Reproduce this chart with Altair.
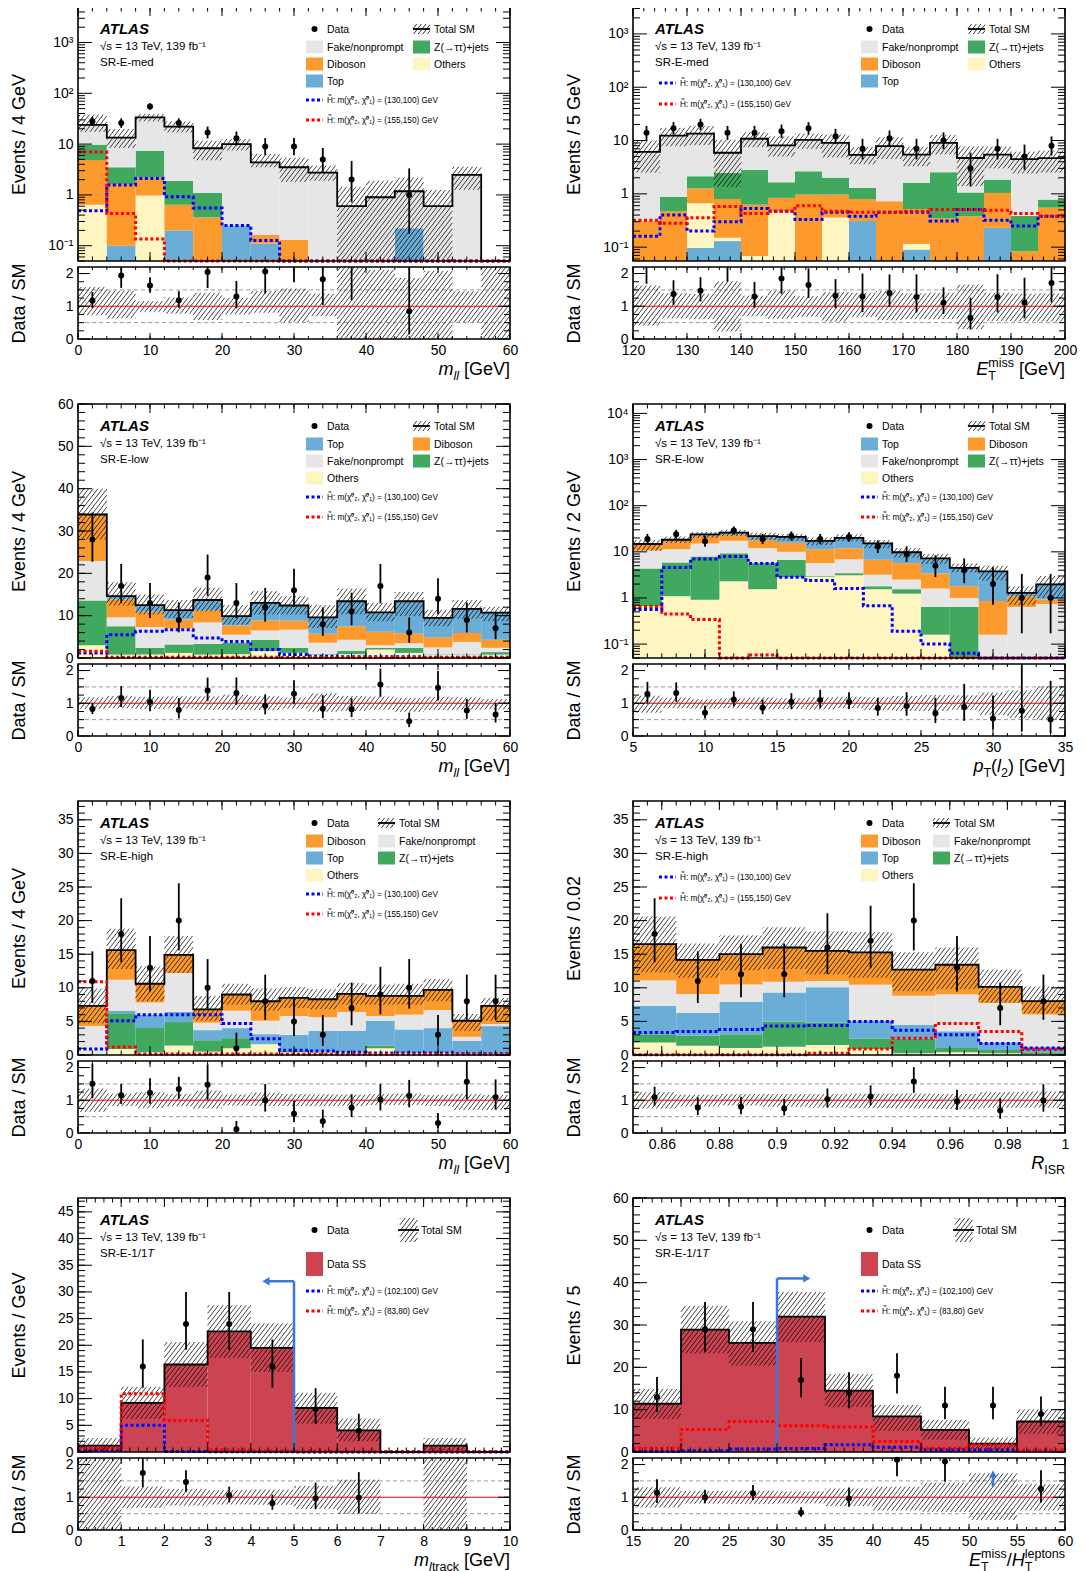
import altair as alt
import numpy as np
import pandas as pd

alt.data_transformers.disable_max_rows()

W, H, RH = 432, 254, 72
RMAX = 2.2
FONT = "Liberation Sans"

COLORS = {
    "Fake/nonprompt": "#e6e6e6",
    "Z(→ττ)+jets": "#41a85f",
    "Diboson": "#fd9a2e",
    "Others": "#fff5c0",
    "Top": "#6aadd6",
    "Data SS": "#cc4452",
}
C_BLUE, C_RED, C_ARROW = "#0000ff", "#ff0000", "#3b78d8"

SIG_A = ["H\u0303: m(\u03c7\u0303\u2070\u2082, \u03c7\u0303\u2070\u2081) = (130,100) GeV",
         "H\u0303: m(\u03c7\u0303\u2070\u2082, \u03c7\u0303\u2070\u2081) = (155,150) GeV"]
SIG_B = ["H\u0303: m(\u03c7\u0303\u2070\u2082, \u03c7\u0303\u2070\u2081) = (102,100) GeV",
         "H\u0303: m(\u03c7\u0303\u2070\u2082, \u03c7\u0303\u2070\u2081) = (83,80) GeV"]

# ---------------- Panel 1 : SR-E-med, m_ll ----------------
p1_edges = [0, 4, 8, 12, 16, 20, 24, 28, 32, 36, 40, 44, 48, 52, 56, 60]
p1_top = [0, 0.10, 0, 0.20, 0, 0.25, 0.11, 0, 0, 0, 0, 0.22, 0, 0, 0]
p1_oth = [0.64, 0, 0.97, 0, 0, 0, 0, 0, 0, 0, 0, 0, 0, 0, 0]
p1_dib = [4.2, 1.54, 1.23, 0.44, 0.36, 0, 0.055, 0.13, 0, 0, 0, 0, 0, 0, 0]
p1_z = [4.9, 1.86, 5.2, 1.26, 0.73, 0, 0, 0, 0, 0, 0, 0, 0, 0, 0]
p1_fake = [14.2, 9.9, 26.3, 20.1, 7.2, 9.75, 4.2, 3.37, 2.74, 0.6, 0.9, 0.96, 0.6, 2.47, 0]
p1_data = [28, 26, 55, 26, 17, 13, 9, 9, 5, 2, 0, 1, 0, 0, 0]
p1_blo = [17.4, 8.4, 28, 17, 4.8, 7.5, 3.5, 1.8, 1.9, 0, 0, 0, 0, 1.25, 0]
p1_bhi = [38, 19.8, 39, 28, 11.7, 12.6, 6.4, 5.4, 3.8, 1.45, 1.9, 2.2, 1.25, 3.6, 0.01]
p1_blue = [0.49, 1.57, 2.1, 0.92, 0.55, 0.25, 0.126, 0, 0, 0, 0, 0, 0, 0, 0]
p1_red = [7.0, 0.43, 0.135, 0, 0, 0, 0, 0, 0, 0, 0, 0, 0, 0, 0]

# ---------------- Panel 2 : SR-E-med, ETmiss ----------------
p2_edges = [120, 125, 130, 135, 140, 145, 150, 155, 160, 165, 170, 175, 180, 185, 190, 195, 200]
p2_top = [0, 0, 0.097, 0.13, 0, 0, 0, 0, 0.31, 0, 0.09, 0, 0, 0.23, 0, 0]
p2_oth = [0, 0, 0.57, 0.02, 0.068, 0.47, 0, 0.36, 0, 0, 0.025, 0, 0, 0, 0, 0]
p2_dib = [0.31, 0.47, 0.60, 0.65, 0.56, 0.37, 0.97, 0.61, 0.49, 0.73, 0.40, 0.35, 0.38, 0.81, 0.084, 0.55]
p2_z = [0, 0.41, 0.87, 1.67, 2.17, 0.81, 1.68, 1.03, 0.49, 0, 1.10, 2.20, 0.68, 0.81, 0.30, 0.23]
p2_fake = [5.8, 11.5, 11.4, 3.43, 8.0, 6.45, 7.65, 7.06, 4.1, 7.1, 3.84, 6.5, 3.64, 3.6, 4.1, 3.9]
p2_data = [14, 17, 20, 14, 14, 15, 17, 12, 7, 11, 7, 10, 3, 7, 5, 8]
p2_blo = [2.5, 7.8, 8.2, 1.35, 7.5, 5.0, 7.0, 4.8, 3.6, 4.5, 3.3, 5.5, 1.4, 3.0, 2.4, 2.5]
p2_bhi = [10.0, 17.3, 18.6, 10.4, 14.3, 12.0, 13.5, 13.0, 7.6, 11.5, 7.6, 12.8, 7.8, 7.7, 6.2, 6.5]
p2_blue = [0.16, 0.40, 0.20, 0.30, 0.53, 0.47, 0.33, 0.45, 0.38, 0.45, 0.45, 0.31, 0.51, 0.32, 0.25, 0.38]
p2_red = [0.32, 0.28, 0.355, 0.58, 0.43, 0.47, 0.60, 0.47, 0.45, 0.45, 0.47, 0.51, 0.51, 0.49, 0.43, 0.38]

# ---------------- Panel 3 : SR-E-low, m_ll ----------------
p3_edges = [0, 4, 8, 12, 16, 20, 24, 28, 32, 36, 40, 44, 48, 52, 56, 60]
p3_oth = [3.0, 0.8, 0.8, 1.2, 0.8, 0.9, 1.6, 1.2, 0.8, 0.9, 2.0, 1.2, 0.8, 0.8, 0.8]
p3_z = [10.6, 6.7, 1.6, 2.0, 2.5, 2.7, 2.7, 1.2, 0.2, 0.8, 0.4, 1.2, 0.1, 0.1, 0.6]
p3_fake = [9.3, 2.1, 4.9, 3.8, 5.1, 1.9, 2.2, 4.3, 2.6, 2.6, 0.6, 1.1, 1.6, 2.9, 1.0]
p3_dib = [11.0, 4.2, 3.6, 2.1, 2.9, 2.2, 2.4, 2.1, 2.1, 3.2, 3.2, 2.3, 2.4, 2.1, 1.9]
p3_top = [0.0, 0.8, 1.6, 2.2, 2.4, 2.2, 4.1, 3.6, 3.9, 5.9, 4.6, 7.6, 4.6, 5.7, 6.4]
p3_data = [28, 17, 13, 9, 19, 13, 12, 16, 8, 11, 17, 6, 14, 9, 7]
p3_blo = [28, 12.4, 10.3, 9.5, 11, 7.9, 10.3, 10.3, 7.1, 10.3, 8.7, 9.9, 7.5, 9.3, 8.7]
p3_bhi = [40, 17.9, 15, 13.7, 16.6, 12.5, 15.8, 14.6, 12.5, 16.4, 13, 15.6, 11.4, 13.7, 12.1]
p3_blue = [1.2, 5.5, 6.3, 6.7, 4.7, 3.9, 2.0, 0.8, 0.4, 0.3, 0.3, 0.3, 0.2, 0.2, 0.2]
p3_red = [1.6, 0.2, 0.2, 0.2, 0.15, 0.15, 0.15, 0.1, 0.1, 0.1, 0.1, 0.1, 0.1, 0.1, 0.1]

# ---------------- Panel 4 : SR-E-low, pT(l2) ----------------
p4_edges = [5, 7, 9, 11, 13, 15, 17, 19, 21, 23, 25, 27, 29, 31, 33, 35]
p4_oth = [0.67, 1.09, 0.92, 2.3, 1.55, 2.8, 2.9, 3.1, 1.55, 1.24, 0.16, 0, 0, 0, 0]
p4_z = [3.7, 4.8, 7.0, 7.0, 4.15, 3.9, 0.1, 0.35, 0.25, 0.31, 0.48, 0.64, 0, 0, 0]
p4_fake = [6.3, 5.5, 7.3, 8.0, 6.3, 3.3, 2.7, 3.45, 1.4, 0.95, 0.96, 0.36, 0.16, 0.64, 0.74]
p4_dib = [4.0, 5.9, 6.8, 6.1, 6.0, 5.7, 5.7, 5.1, 3.5, 3.2, 1.8, 0.8, 0.7, 0.45, 0.18]
p4_top = [0.1, 1.0, 2.0, 2.6, 4.0, 5.5, 5.9, 8.0, 8.5, 4.1, 3.8, 2.7, 2.9, 0.2, 1.05]
p4_data = [19, 24, 17, 29, 19, 22, 19, 21, 13, 9, 5, 4, 2, 1, 1]
p4_blo = [10.5, 15.5, 20, 22, 18, 17.5, 14, 17, 12, 7.5, 5.5, 3.6, 2.4, 0.7, 1.0]
p4_bhi = [18.2, 21.5, 27, 30, 26, 24.5, 20.5, 24, 18, 12, 9, 5.6, 5.0, 1.8, 3.0]
p4_blue = [0.56, 4.6, 7.0, 7.9, 5.6, 2.8, 2.4, 1.6, 0.68, 0.19, 0.1, 0.063, 0, 0, 0]
p4_red = [0.65, 0.45, 0.34, 0, 0.058, 0, 0, 0, 0, 0, 0, 0, 0, 0, 0]

# ---------------- Panel 5 : SR-E-high, m_ll ----------------
p5_edges = [0, 4, 8, 12, 16, 20, 24, 28, 32, 36, 40, 44, 48, 52, 56, 60]
p5_oth = [0, 0.9, 0.4, 1.4, 0.5, 1.0, 1.6, 0.4, 0.4, 0.4, 1.0, 0.3, 0.3, 0.2, 0.2]
p5_z = [0, 5.3, 3.6, 3.5, 1.7, 1.5, 0, 0.2, 0.1, 0.1, 0.4, 0, 0.1, 0, 0]
p5_top = [0, 0.4, 2.0, 1.5, 1.5, 1.5, 1.5, 2.4, 3.1, 3.1, 3.7, 3.5, 3.6, 1.9, 4.1]
p5_fake = [4.3, 4.6, 1.8, 5.8, 1.1, 2.6, 2.0, 2.8, 2.0, 2.8, 0.7, 2.2, 2.7, 0.6, 0.3]
p5_dib = [3.0, 4.4, 2.8, 2.7, 2.0, 2.4, 2.9, 2.7, 2.7, 2.7, 3.0, 2.8, 3.0, 2.4, 2.7]
p5_data = [11, 18, 13, 20, 10, 1, 8, 5, 3, 7, 9, 10, 3, 8, 8]
p5_blo = [4.7, 12.8, 8.0, 12.2, 5.1, 7.5, 6.6, 7.0, 6.8, 7.5, 7.5, 7.5, 8.0, 3.6, 5.1]
p5_bhi = [9.9, 18.8, 13.2, 17.7, 8.8, 10.6, 9.9, 10.1, 9.8, 10.7, 10.5, 10.6, 11.3, 6.1, 8.5]
p5_blue = [0.9, 5.1, 6.0, 6.0, 6.0, 4.7, 2.4, 0.7, 0.6, 0.4, 0.3, 0.3, 0.3, 0.2, 0.2]
p5_red = [10.9, 1.2, 0.15, 0.15, 0.15, 0.15, 0.15, 0.1, 0.1, 0.1, 0.1, 0.1, 0.1, 0.1, 0.1]

# ---------------- Panel 6 : SR-E-high, R_ISR ----------------
p6_edges = [0.85, 0.865, 0.88, 0.895, 0.91, 0.925, 0.94, 0.955, 0.97, 0.985, 1.0]
p6_oth = [1.87, 1.38, 1.03, 1.23, 1.48, 0.9, 0.25, 0.4, 0.25, 0.15]
p6_z = [1.23, 1.48, 2.07, 3.77, 3.32, 1.56, 2.15, 0.63, 0.5, 0.25]
p6_top = [4.2, 3.4, 4.8, 4.3, 5.3, 2.6, 2.1, 2.5, 1.1, 0.83]
p6_fake = [3.8, 2.8, 2.6, 1.6, 0.9, 5.4, 4.3, 5.5, 5.9, 4.8]
p6_dib = [5.4, 5.1, 4.5, 5.1, 4.5, 4.8, 3.9, 4.4, 2.4, 2.0]
p6_data = [18, 11, 12, 12, 16, 17, 20, 13, 7, 8]
p6_blo = [12.3, 11.5, 12.6, 12.8, 12.0, 11.5, 9.5, 9.8, 7.8, 6.2]
p6_bhi = [20.6, 16.6, 17.8, 19.0, 18.4, 18.3, 15.3, 16.0, 12.7, 10.2]
p6_blue = [3.35, 3.5, 3.8, 4.3, 4.4, 5.0, 3.7, 3.0, 1.7, 1.03]
p6_red = [0.05, 0.05, 0.05, 0.05, 0.25, 0.9, 2.5, 4.7, 3.5, 0.8]

# ---------------- Panel 7 : SR-E-1/1T, m_ltrack ----------------
p7_edges = [0, 1, 2, 3, 4, 5, 6, 7, 8, 9, 10]
p7_ss = [1.2, 9.2, 16.4, 22.6, 19.5, 8.25, 4.06, 0, 1.2, 0]
p7_data = [0, 16, 24, 24, 16, 8, 4, 0, 0, 0]
p7_blo = [0, 6.2, 12.2, 17.6, 15.0, 5.3, 2.0, 0, 0, 0]
p7_bhi = [2.6, 12.2, 20.6, 27.5, 24.1, 11.1, 6.25, 0, 2.6, 0]
p7_blue = [0.4, 5.0, 0.1, 0.05, 0.05, 0.02, 0.02, 0.02, 0.02, 0.02]
p7_red = [0.75, 10.9, 5.9, 0.4, 0.3, 0.2, 0.1, 0.1, 0.1, 0.1]
p7_cut = [5.0, 32.0, -0.65]   # cut value, arrow height, arrow length (sign = direction)

# ---------------- Panel 8 : SR-E-1/1T, ETmiss/HT ----------------
p8_edges = [15, 20, 25, 30, 35, 40, 45, 50, 55, 60]
p8_ss = [11.4, 28.9, 25.8, 32.0, 14.5, 8.4, 5.25, 1.96, 7.2]
p8_data = [13, 29, 29, 17, 14, 18, 11, 11, 9]
p8_blo = [7.8, 23.3, 20.4, 26.0, 10.6, 5.0, 2.9, 0.6, 4.3]
p8_bhi = [14.9, 34.5, 30.9, 37.8, 18.4, 11.1, 7.6, 3.4, 10.1]
p8_blue = [0.1, 0.3, 0.7, 0.8, 1.7, 1.1, 0.55, 0.5, 0.3]
p8_red = [0.9, 5.3, 7.2, 6.2, 5.9, 2.5, 0.9, 1.7, 0.5]
p8_cut = [30.0, 41.0, 3.1]

LOG_LABELS_A = [0.1, 1, 10, 100, 1000]
LOG_LABELS_B = [0.1, 1, 10, 100, 1000, 10000]


def rng(a, b, s):
    return [round(float(v), 6) for v in np.arange(a, b + s / 2, s)]


def log_minors(lo, hi):
    out = []
    for d in range(-3, 6):
        for k in range(2, 10):
            v = k * 10.0 ** d
            if lo <= v <= hi:
                out.append(v)
    return out


def log_majors(lo, hi):
    return [10.0 ** d for d in range(-3, 6) if lo <= 10.0 ** d <= hi]


LOGEXPR = ("datum.value < 0.5 ? '10\u207b\u00b9' : datum.value < 5 ? '1' : datum.value < 50 ? '10' : "
           "datum.value < 500 ? '10\u00b2' : datum.value < 5000 ? '10\u00b3' : '10\u2074'")

AW = {' ': .278, '[': .278, ']': .278, 'G': .778, 'e': .556, 'V': .667, 'l': .222, 'm': .833, 'i': .222,
      's': .5, 'T': .611, 'E': .667, 'H': .722, 'p': .556, 't': .278, 'o': .556, 'n': .556, 'r': .333,
      'a': .556, 'c': .5, 'k': .5, 'R': .722, 'I': .278, 'S': .667, '(': .333, ')': .333, '2': .556,
      '/': .278, '-': .333, '1': .556, 'd': .556, 'M': .833}


def tw(s, size):
    return sum(AW.get(ch, 0.55) for ch in s) * size


def rich(pieces, right, base):
    widths = []
    for it in pieces:
        if isinstance(it, list):
            widths.append(max(tw(t, s) for t, s, d, st in it))
        else:
            widths.append(tw(it[0], it[1]))
    x = right - sum(widths)
    rows = []
    for it, wd in zip(pieces, widths):
        grp = it if isinstance(it, list) else [it]
        for t, s, d, st in grp:
            lead = len(t) - len(t.lstrip())
            rows.append(dict(px=x + tw(t[:lead], s), py=base + d, t=t.lstrip(), fs=s, st=st))
        x += wd
    return rows


K = 1.3
SP = 4.6


def hatch_rows(rects, xdom, ydom, ylog, w, h):
    x0, x1 = xdom
    if ylog:
        l0, l1 = np.log10(ydom[0]), np.log10(ydom[1])

        def yp(v):
            return (np.log10(max(v, ydom[0])) - l0) / (l1 - l0) * h

        def yi(p):
            return 10 ** (l0 + p / h * (l1 - l0))
    else:
        def yp(v):
            return (v - ydom[0]) / (ydom[1] - ydom[0]) * h

        def yi(p):
            return ydom[0] + p / h * (ydom[1] - ydom[0])

    def xp(v):
        return (v - x0) / (x1 - x0) * w

    def xi(p):
        return x0 + p / w * (x1 - x0)

    out = []
    step = K * SP
    for a, b, lo, hi in rects:
        A, B = sorted((xp(a), xp(b)))
        LO, HI = sorted((yp(lo), yp(hi)))
        LO = min(max(LO, 0), h)
        HI = min(max(HI, 0), h)
        if HI - LO < 0.8 or B - A < 0.5:
            continue
        kmin = int(np.ceil((LO - K * B) / step))
        kmax = int(np.floor((HI - K * A) / step))
        for k in range(kmin, kmax + 1):
            c = k * step
            xs = max(A, (LO - c) / K)
            xe = min(B, (HI - c) / K)
            if xe - xs > 0.05:
                out.append(dict(hx=xi(xs), hy=yi(K * xs + c), hx2=xi(xe), hy2=yi(K * xe + c)))
    return pd.DataFrame(out, columns=['hx', 'hy', 'hx2', 'hy2'])


def gehrels(n):
    n = np.asarray(n, float)
    m = np.maximum(n, 1.0)
    hi = n + 1.0 + np.sqrt(n + 0.75)
    lo = np.where(n > 0, m * (1 - 1 / (9 * m) - 1 / (3 * np.sqrt(m))) ** 3, 0.0)
    return lo, hi


def text_layers(rows):
    out = []
    if not rows:
        return out
    df = pd.DataFrame(rows)
    for st, grp in df.groupby('st'):
        kw = dict(align='left', baseline='alphabetic', font=FONT, color='black')
        if st == 'i':
            kw['fontStyle'] = 'italic'
        if st == 'bi':
            kw.update(fontStyle='italic', fontWeight='bold')
        out.append(alt.Chart(grp.reset_index(drop=True)).mark_text(**kw).encode(
            x=alt.X('px:Q', scale=None), y=alt.Y('py:Q', scale=None),
            text='t:N', size=alt.Size('fs:Q', scale=None)))
    return out


def frame(w, h):
    return alt.Chart(pd.DataFrame({'a': [0]})).mark_rect(
        fillOpacity=0, stroke='black', strokeWidth=1.6).encode(
        x=alt.value(0), x2=alt.value(w), y=alt.value(0), y2=alt.value(h))


def spacer(y):
    # white 1px rule outside the plot: only fixes the layout bounds
    return alt.Chart(pd.DataFrame({'a': [0]})).mark_rule(color='white', strokeWidth=1).encode(
        x=alt.value(0), x2=alt.value(1), y=alt.value(y))


ROWS = [22, 40, 57, 74]
C1 = (228, 245, 249)
LEG_FS = 10.5


def legend_layers(leg, sig_labels):
    boxes, lines, marks, texts, hrects, blk = [], [], [], [], [], []
    if leg['kind'] == 'std':
        for col, row, kind, label in leg['items']:
            sx0, sx1, tx = C1 if col == 0 else leg['col2']
            yc = ROWS[row]
            if kind == 'data':
                marks.append(dict(px=(sx0 + sx1) / 2, py=yc))
            elif kind == 'total':
                hrects.append((sx0, sx1, yc - 5, yc + 5))
                blk.append(dict(lx=sx0, lx2=sx1, ly=yc))
            else:
                boxes.append(dict(bx=sx0, bx2=sx1, by=yc - 6.5, by2=yc + 6.5, c=COLORS[kind]))
            texts.append(dict(px=tx, py=yc + 3.8, t=label, fs=LEG_FS, st='n'))
    else:
        marks.append(dict(px=236.5, py=32))
        texts.append(dict(px=249, py=35.8, t='Data', fs=LEG_FS, st='n'))
        hrects.append((322, 339.5, 20, 44))
        blk.append(dict(lx=320, lx2=341, ly=32))
        texts.append(dict(px=343, py=35.8, t='Total SM', fs=LEG_FS, st='n'))
        boxes.append(dict(bx=228, bx2=245, by=54, by2=78, c=COLORS['Data SS']))
        texts.append(dict(px=249, py=69.8, t='Data SS', fs=LEG_FS, st='n'))
    if leg['sig'] == 'under':
        sx0, sx1, tx, ys = 228, 245, 249, [93, 113]
    else:
        sx0, sx1, tx, ys = 26, 43, 47, [76, 97]
    for y, c, lab in zip(ys, [C_BLUE, C_RED], sig_labels):
        lines.append(dict(lx=sx0, lx2=sx1, ly=y, c=c))
        texts.append(dict(px=tx, py=y + 2.8, t=lab, fs=8.2, st='n'))

    layers = []
    if boxes:
        layers.append(alt.Chart(pd.DataFrame(boxes)).mark_rect().encode(
            x=alt.X('bx:Q', scale=None), x2='bx2', y=alt.Y('by:Q', scale=None), y2='by2',
            color=alt.Color('c:N', scale=None)))
    hdf = hatch_rows(hrects, (0, W), (H, 0), False, W, H)
    layers.append(alt.Chart(hdf).mark_rule(color='black', strokeWidth=0.8).encode(
        x=alt.X('hx:Q', scale=None), x2='hx2', y=alt.Y('hy:Q', scale=None), y2='hy2'))
    layers.append(alt.Chart(pd.DataFrame(blk)).mark_rule(color='black', strokeWidth=1.8).encode(
        x=alt.X('lx:Q', scale=None), x2='lx2', y=alt.Y('ly:Q', scale=None)))
    layers.append(alt.Chart(pd.DataFrame(lines)).mark_rule(strokeWidth=3, strokeDash=[3, 2.5]).encode(
        x=alt.X('lx:Q', scale=None), x2='lx2', y=alt.Y('ly:Q', scale=None),
        color=alt.Color('c:N', scale=None)))
    layers.append(alt.Chart(pd.DataFrame(marks)).mark_point(filled=True, color='black', size=36, opacity=1).encode(
        x=alt.X('px:Q', scale=None), y=alt.Y('py:Q', scale=None)))
    layers += text_layers(texts)
    return layers


def panel(p, top_spacer):
    edges = np.array(p['edges'], float)
    n = len(edges) - 1
    xdom = [float(edges[0]), float(edges[-1])]
    ydom = [float(v) for v in p['ydom']]
    log = p['log']
    cen = (edges[:-1] + edges[1:]) / 2
    xsc = alt.Scale(domain=xdom, nice=False, zero=False)
    if log:
        ysc = alt.Scale(type='log', domain=ydom, nice=False, clamp=True)
    else:
        ysc = alt.Scale(domain=ydom, nice=False, zero=False, clamp=True)
    yax = alt.Axis(values=p['ylabels'], labelExpr=LOGEXPR if log else 'datum.label',
                   ticks=False, domain=False, grid=False, labelFontSize=14, labelPadding=5,
                   labelFlush=False, labelOverlap=False, title=p['ytitle'], titleFontSize=18,
                   titleFontWeight='normal', titlePadding=10, minExtent=40, maxExtent=40)

    def X(f):
        return alt.X(f, type='quantitative', scale=xsc, axis=None)

    def Y(f):
        return alt.Y(f, type='quantitative', scale=ysc, axis=yax)

    def fl(v):
        return max(v, ydom[0]) if log else v

    rows = []
    cum = np.zeros(n)
    for name, vals in p['stack']:
        v = np.array(vals, float)
        for i in range(n):
            if v[i] <= 0:
                continue
            a, b = cum[i], cum[i] + v[i]
            if log and b <= ydom[0]:
                continue
            rows.append(dict(x=edges[i], x2=edges[i + 1], y=fl(a), y2=b, c=COLORS[name]))
        cum = cum + v
    total = cum
    layers = [alt.Chart(pd.DataFrame(rows)).mark_rect().encode(
        x=X('x'), x2='x2', y=Y('y'), y2='y2', color=alt.Color('c:N', scale=None))]

    blo, bhi = np.array(p['blo'], float), np.array(p['bhi'], float)
    hdf = hatch_rows([(edges[i], edges[i + 1], blo[i], bhi[i]) for i in range(n)], xdom, ydom, log, W, H)
    layers.append(alt.Chart(hdf).mark_rule(color='black', strokeWidth=0.75).encode(
        x=X('hx'), x2='hx2', y=Y('hy'), y2='hy2'))

    tdf = pd.DataFrame(dict(x=edges, y=[fl(v) for v in list(total) + [total[-1]]]))
    layers.append(alt.Chart(tdf).mark_line(interpolate='step-after', color='black', strokeWidth=1.8).encode(
        x=X('x'), y=Y('y')))

    srows = []
    for vals, c in [(p['blue'], C_BLUE), (p['red'], C_RED)]:
        vv = list(vals) + [vals[-1]]
        for xe, v in zip(edges, vv):
            srows.append(dict(x=xe, y=fl(v), c=c))
    layers.append(alt.Chart(pd.DataFrame(srows)).mark_line(
        interpolate='step-after', strokeWidth=3, strokeDash=[3, 2.5]).encode(
        x=X('x'), y=Y('y'), color=alt.Color('c:N', scale=None)))

    data = np.array(p['data'], float)
    elo, ehi = gehrels(data)
    m = data > 0
    ddf = pd.DataFrame(dict(x=cen[m], y=data[m], lo=np.array([fl(v) for v in elo[m]]), hi=ehi[m]))
    layers.append(alt.Chart(ddf).mark_rule(color='black', strokeWidth=1.8).encode(
        x=X('x'), y=Y('lo'), y2='hi'))
    layers.append(alt.Chart(ddf).mark_point(filled=True, color='black', size=36, opacity=1).encode(
        x=X('x'), y=Y('y')))

    if p.get('cut'):
        cv, ch, cl = p['cut']
        adf = pd.DataFrame(dict(x=[cv], x2=[cv + cl], y0=[0.0], y=[ch]))
        layers.append(alt.Chart(adf).mark_rule(color=C_ARROW, strokeWidth=2.5).encode(
            x=X('x'), y=Y('y0'), y2='y'))
        layers.append(alt.Chart(adf).mark_rule(color=C_ARROW, strokeWidth=2.5).encode(
            x=X('x'), x2='x2', y=Y('y')))
        layers.append(alt.Chart(adf).mark_point(
            shape='triangle-left' if cl < 0 else 'triangle-right', filled=True, color=C_ARROW,
            size=70, opacity=1).encode(x=X('x2'), y=Y('y')))

    xmaj, xmin = p['xticks']
    trows = []
    for vals, L in [(xmaj, 9), (xmin, 4.5)]:
        for v in vals:
            trows.append(dict(tx=v, ta=H, tb=H - L))
            trows.append(dict(tx=v, ta=0, tb=L))
    layers.append(alt.Chart(pd.DataFrame(trows)).mark_rule(color='black', strokeWidth=1).encode(
        x=X('tx'), y=alt.Y('ta:Q', scale=None), y2='tb'))
    if log:
        ymaj, ymin = log_majors(*ydom), log_minors(*ydom)
    else:
        ymaj, ymin = p['yticks']
    yrows = []
    for vals, L in [(ymaj, 14), (ymin, 7)]:
        for v in vals:
            yrows.append(dict(ty=v, ta=0, tb=L))
            yrows.append(dict(ty=v, ta=W - L, tb=W))
    layers.append(alt.Chart(pd.DataFrame(yrows)).mark_rule(color='black', strokeWidth=1).encode(
        y=Y('ty'), x=alt.X('ta:Q', scale=None), x2='tb'))

    layers += legend_layers(p['legend'], p['siglabels'])
    trows = [dict(px=22, py=27, t='ATLAS', fs=15, st='bi'),
             dict(px=22, py=43, t='\u221as = 13 TeV, 139 fb\u207b\u00b9', fs=11.5, st='n')]
    if p['region'].endswith('/1T'):
        base = p['region'][:-1]
        trows.append(dict(px=22, py=59, t=base, fs=11.5, st='n'))
        trows.append(dict(px=22 + tw(base, 11.5), py=59, t='T', fs=11.5, st='i'))
    else:
        trows.append(dict(px=22, py=59, t=p['region'], fs=11.5, st='n'))
    layers += text_layers(trows)
    layers.append(frame(W, H))
    if top_spacer:
        layers.append(spacer(-9))
    main = alt.layer(*layers).properties(width=W, height=H)

    # ---------------- ratio ----------------
    rsc = alt.Scale(domain=[0, RMAX], nice=False, zero=False, clamp=True)
    rax = alt.Axis(values=[0, 1, 2], ticks=False, domain=False, grid=False, labelFontSize=14,
                   labelPadding=5, labelFlush=False, labelOverlap=False, title='Data / SM',
                   titleFontSize=18, titleFontWeight='normal', titlePadding=10,
                   minExtent=40, maxExtent=40)
    xax = alt.Axis(values=p['xlabels'], format='.6~g', ticks=False, domain=False, grid=False,
                   labelFontSize=14, labelPadding=4, labelFlush=False, labelOverlap=False, title=None)

    def RX(f):
        return alt.X(f, type='quantitative', scale=xsc, axis=xax)

    def RY(f):
        return alt.Y(f, type='quantitative', scale=rsc, axis=rax)

    rl = []
    rl.append(alt.Chart(pd.DataFrame({'ry': [0.5, 1.5]})).mark_rule(
        color='#9a9a9a', strokeDash=[4, 3], strokeWidth=1).encode(
        y=RY('ry'), x=alt.value(0), x2=alt.value(W)))
    rrects = []
    for i in range(n):
        if total[i] > 0:
            rrects.append((edges[i], edges[i + 1], min(blo[i] / total[i], RMAX), min(bhi[i] / total[i], RMAX)))
        elif bhi[i] > 0:
            rrects.append((edges[i], edges[i + 1], 0.0, RMAX))
    rh = hatch_rows(rrects, xdom, [0, RMAX], False, W, RH)
    rl.append(alt.Chart(rh).mark_rule(color='black', strokeWidth=0.75).encode(
        x=RX('hx'), x2='hx2', y=RY('hy'), y2='hy2'))
    rl.append(alt.Chart(pd.DataFrame({'ry': [1.0]})).mark_rule(color='#ff0000', strokeWidth=1.2).encode(
        y=RY('ry'), x=alt.value(0), x2=alt.value(W)))
    er, pr, ar = [], [], []
    for i in range(n):
        if data[i] <= 0 or total[i] <= 0:
            continue
        r = data[i] / total[i]
        lo_r, hi_r = elo[i] / total[i], ehi[i] / total[i]
        if lo_r >= RMAX:
            ar.append(dict(x=cen[i], y0=0.6 * RMAX, y1=0.75 * RMAX, yh=0.78 * RMAX))
            continue
        er.append(dict(x=cen[i], lo=lo_r, hi=min(hi_r, RMAX)))
        if r <= RMAX:
            pr.append(dict(x=cen[i], y=r))
    rl.append(alt.Chart(pd.DataFrame(er, columns=['x', 'lo', 'hi'])).mark_rule(color='black', strokeWidth=1.8).encode(
        x=RX('x'), y=RY('lo'), y2='hi'))
    rl.append(alt.Chart(pd.DataFrame(pr, columns=['x', 'y'])).mark_point(
        filled=True, color='black', size=36, opacity=1).encode(x=RX('x'), y=RY('y')))
    if ar:
        adf = pd.DataFrame(ar)
        rl.append(alt.Chart(adf).mark_rule(color=C_ARROW, strokeWidth=2.5).encode(
            x=RX('x'), y=RY('y0'), y2='y1'))
        rl.append(alt.Chart(adf).mark_point(shape='triangle-up', filled=True, color=C_ARROW,
                                            size=60, opacity=1).encode(x=RX('x'), y=RY('yh')))
    trows = []
    for vals, L in [(xmaj, 6), (xmin, 3)]:
        for v in vals:
            trows.append(dict(tx=v, ta=RH, tb=RH - L))
            trows.append(dict(tx=v, ta=0, tb=L))
    rl.append(alt.Chart(pd.DataFrame(trows)).mark_rule(color='black', strokeWidth=1).encode(
        x=RX('tx'), y=alt.Y('ta:Q', scale=None), y2='tb'))
    yrows = []
    for vals, L in [([0, 1, 2], 12), (rng(0.25, 2.0, 0.25), 6)]:
        for v in vals:
            yrows.append(dict(ty=v, ta=0, tb=L))
            yrows.append(dict(ty=v, ta=W - L, tb=W))
    rl.append(alt.Chart(pd.DataFrame(yrows)).mark_rule(color='black', strokeWidth=1).encode(
        y=RY('ty'), x=alt.X('ta:Q', scale=None), x2='tb'))
    rl += text_layers(rich(p['xtitle'], W, RH + 36))
    rl.append(frame(W, RH))
    rl.append(spacer(RH + 46))
    ratio = alt.layer(*rl).properties(width=W, height=RH)
    return alt.vconcat(main, ratio, spacing=6, bounds='flush')


LEG_A = [(0, 0, 'data', 'Data'), (1, 0, 'total', 'Total SM'), (0, 1, 'Fake/nonprompt', 'Fake/nonprompt'),
         (1, 1, 'Z(→ττ)+jets', 'Z(\u2192\u03c4\u03c4)+jets'), (0, 2, 'Diboson', 'Diboson'),
         (1, 2, 'Others', 'Others'), (0, 3, 'Top', 'Top')]
LEG_B = [(0, 0, 'data', 'Data'), (1, 0, 'total', 'Total SM'), (0, 1, 'Top', 'Top'),
         (1, 1, 'Diboson', 'Diboson'), (0, 2, 'Fake/nonprompt', 'Fake/nonprompt'),
         (1, 2, 'Z(→ττ)+jets', 'Z(\u2192\u03c4\u03c4)+jets'), (0, 3, 'Others', 'Others')]
LEG_C = [(0, 0, 'data', 'Data'), (1, 0, 'total', 'Total SM'), (0, 1, 'Diboson', 'Diboson'),
         (1, 1, 'Fake/nonprompt', 'Fake/nonprompt'), (0, 2, 'Top', 'Top'),
         (1, 2, 'Z(→ττ)+jets', 'Z(\u2192\u03c4\u03c4)+jets'), (0, 3, 'Others', 'Others')]

XT_MLL = [("m", 18, 0, 'i'), ("ll", 12.5, 5, 'i'), (" [GeV]", 18, 0, 'n')]
XT_MET = [("E", 18, 0, 'i'), [("T", 12.5, 5, 'n'), ("miss", 12.5, -8, 'n')], (" [GeV]", 18, 0, 'n')]
XT_PT = [("p", 18, 0, 'i'), ("T", 12.5, 5, 'n'), ("(", 18, 0, 'n'), ("l", 18, 0, 'i'),
         ("2", 12.5, 5, 'n'), (") [GeV]", 18, 0, 'n')]
XT_RISR = [("R", 18, 0, 'i'), ("ISR", 12.5, 5, 'n')]
XT_MLT = [("m", 18, 0, 'i'), ("l", 12.5, 5, 'i'), ("track", 12.5, 5, 'n'), (" [GeV]", 18, 0, 'n')]
XT_RAT = [("E", 18, 0, 'i'), [("T", 12.5, 5, 'n'), ("miss", 12.5, -8, 'n')], ("/", 18, 0, 'n'),
          ("H", 18, 0, 'i'), [("T", 12.5, 5, 'n'), ("leptons", 12.5, -8, 'n')]]

P = []
P.append(dict(edges=p1_edges, ydom=(0.05, 5000), log=True, ylabels=LOG_LABELS_A,
              stack=[('Top', p1_top), ('Others', p1_oth), ('Diboson', p1_dib), ('Z(→ττ)+jets', p1_z),
                     ('Fake/nonprompt', p1_fake)],
              data=p1_data, blo=p1_blo, bhi=p1_bhi, blue=p1_blue, red=p1_red,
              ytitle='Events / 4 GeV', region='SR-E-med', xlabels=rng(0, 60, 10),
              xticks=(rng(0, 60, 10), rng(0, 60, 2)), xtitle=XT_MLL,
              legend=dict(kind='std', items=LEG_A, col2=(335, 352, 356), sig='under'), siglabels=SIG_A))
P.append(dict(edges=p2_edges, ydom=(0.055, 3200), log=True, ylabels=LOG_LABELS_A,
              stack=[('Top', p2_top), ('Others', p2_oth), ('Diboson', p2_dib), ('Z(→ττ)+jets', p2_z),
                     ('Fake/nonprompt', p2_fake)],
              data=p2_data, blo=p2_blo, bhi=p2_bhi, blue=p2_blue, red=p2_red,
              ytitle='Events / 5 GeV', region='SR-E-med', xlabels=rng(120, 200, 10),
              xticks=(rng(120, 200, 10), rng(120, 200, 2)), xtitle=XT_MET,
              legend=dict(kind='std', items=LEG_A, col2=(335, 352, 356), sig='left'), siglabels=SIG_A))
P.append(dict(edges=p3_edges, ydom=(0, 60), log=False, ylabels=rng(0, 60, 10), yticks=(rng(0, 60, 10), rng(0, 60, 2)),
              stack=[('Others', p3_oth), ('Z(→ττ)+jets', p3_z), ('Fake/nonprompt', p3_fake),
                     ('Diboson', p3_dib), ('Top', p3_top)],
              data=p3_data, blo=p3_blo, bhi=p3_bhi, blue=p3_blue, red=p3_red,
              ytitle='Events / 4 GeV', region='SR-E-low', xlabels=rng(0, 60, 10),
              xticks=(rng(0, 60, 10), rng(0, 60, 2)), xtitle=XT_MLL,
              legend=dict(kind='std', items=LEG_B, col2=(335, 352, 356), sig='under'), siglabels=SIG_A))
P.append(dict(edges=p4_edges, ydom=(0.05, 16000), log=True, ylabels=LOG_LABELS_B,
              stack=[('Others', p4_oth), ('Z(→ττ)+jets', p4_z), ('Fake/nonprompt', p4_fake),
                     ('Diboson', p4_dib), ('Top', p4_top)],
              data=p4_data, blo=p4_blo, bhi=p4_bhi, blue=p4_blue, red=p4_red,
              ytitle='Events / 2 GeV', region='SR-E-low', xlabels=rng(5, 35, 5),
              xticks=(rng(5, 35, 5), rng(5, 35, 1)), xtitle=XT_PT,
              legend=dict(kind='std', items=LEG_B, col2=(335, 352, 356), sig='under'), siglabels=SIG_A))
P.append(dict(edges=p5_edges, ydom=(0, 37.8), log=False, ylabels=rng(0, 35, 5), yticks=(rng(0, 35, 5), rng(0, 37, 1)),
              stack=[('Others', p5_oth), ('Z(→ττ)+jets', p5_z), ('Top', p5_top),
                     ('Fake/nonprompt', p5_fake), ('Diboson', p5_dib)],
              data=p5_data, blo=p5_blo, bhi=p5_bhi, blue=p5_blue, red=p5_red,
              ytitle='Events / 4 GeV', region='SR-E-high', xlabels=rng(0, 60, 10),
              xticks=(rng(0, 60, 10), rng(0, 60, 2)), xtitle=XT_MLL,
              legend=dict(kind='std', items=LEG_C, col2=(300, 317, 321), sig='under'), siglabels=SIG_A))
P.append(dict(edges=p6_edges, ydom=(0, 37.8), log=False, ylabels=rng(0, 35, 5), yticks=(rng(0, 35, 5), rng(0, 37, 1)),
              stack=[('Others', p6_oth), ('Z(→ττ)+jets', p6_z), ('Top', p6_top),
                     ('Fake/nonprompt', p6_fake), ('Diboson', p6_dib)],
              data=p6_data, blo=p6_blo, bhi=p6_bhi, blue=p6_blue, red=p6_red,
              ytitle='Events / 0.02', region='SR-E-high', xlabels=rng(0.86, 1.0, 0.02),
              xticks=(rng(0.86, 1.0, 0.02), rng(0.85, 1.0, 0.005)), xtitle=XT_RISR,
              legend=dict(kind='std', items=LEG_C, col2=(300, 317, 321), sig='left'), siglabels=SIG_A))
P.append(dict(edges=p7_edges, ydom=(0, 47.6), log=False, ylabels=rng(0, 45, 5), yticks=(rng(0, 45, 5), rng(0, 47, 1)),
              stack=[('Data SS', p7_ss)],
              data=p7_data, blo=p7_blo, bhi=p7_bhi, blue=p7_blue, red=p7_red, cut=p7_cut,
              ytitle='Events / GeV', region='SR-E-1/1T', xlabels=rng(0, 10, 1),
              xticks=(rng(0, 10, 1), rng(0, 10, 0.2)), xtitle=XT_MLT,
              legend=dict(kind='ss', sig='under'), siglabels=SIG_B))
P.append(dict(edges=p8_edges, ydom=(0, 60), log=False, ylabels=rng(0, 60, 10), yticks=(rng(0, 60, 10), rng(0, 60, 2)),
              stack=[('Data SS', p8_ss)],
              data=p8_data, blo=p8_blo, bhi=p8_bhi, blue=p8_blue, red=p8_red, cut=p8_cut,
              ytitle='Events / 5', region='SR-E-1/1T', xlabels=rng(15, 60, 5),
              xticks=(rng(15, 60, 5), rng(15, 60, 1)), xtitle=XT_RAT,
              legend=dict(kind='ss', sig='under'), siglabels=SIG_B))

panels = [panel(p, top_spacer=(k >= 2)) for k, p in enumerate(P)]
rows = [alt.hconcat(panels[2 * i], panels[2 * i + 1], spacing=47) for i in range(4)]
chart = alt.vconcat(*rows, spacing=8).properties(
    padding={'left': 2, 'top': -2, 'right': 0, 'bottom': 0}, background='white'
).configure(font=FONT).configure_view(strokeWidth=0).configure_axis(
    labelFont=FONT, titleFont=FONT, labelColor='black', titleColor='black')

chart.save("out.html", embed_options={"renderer": "svg", "actions": False})
